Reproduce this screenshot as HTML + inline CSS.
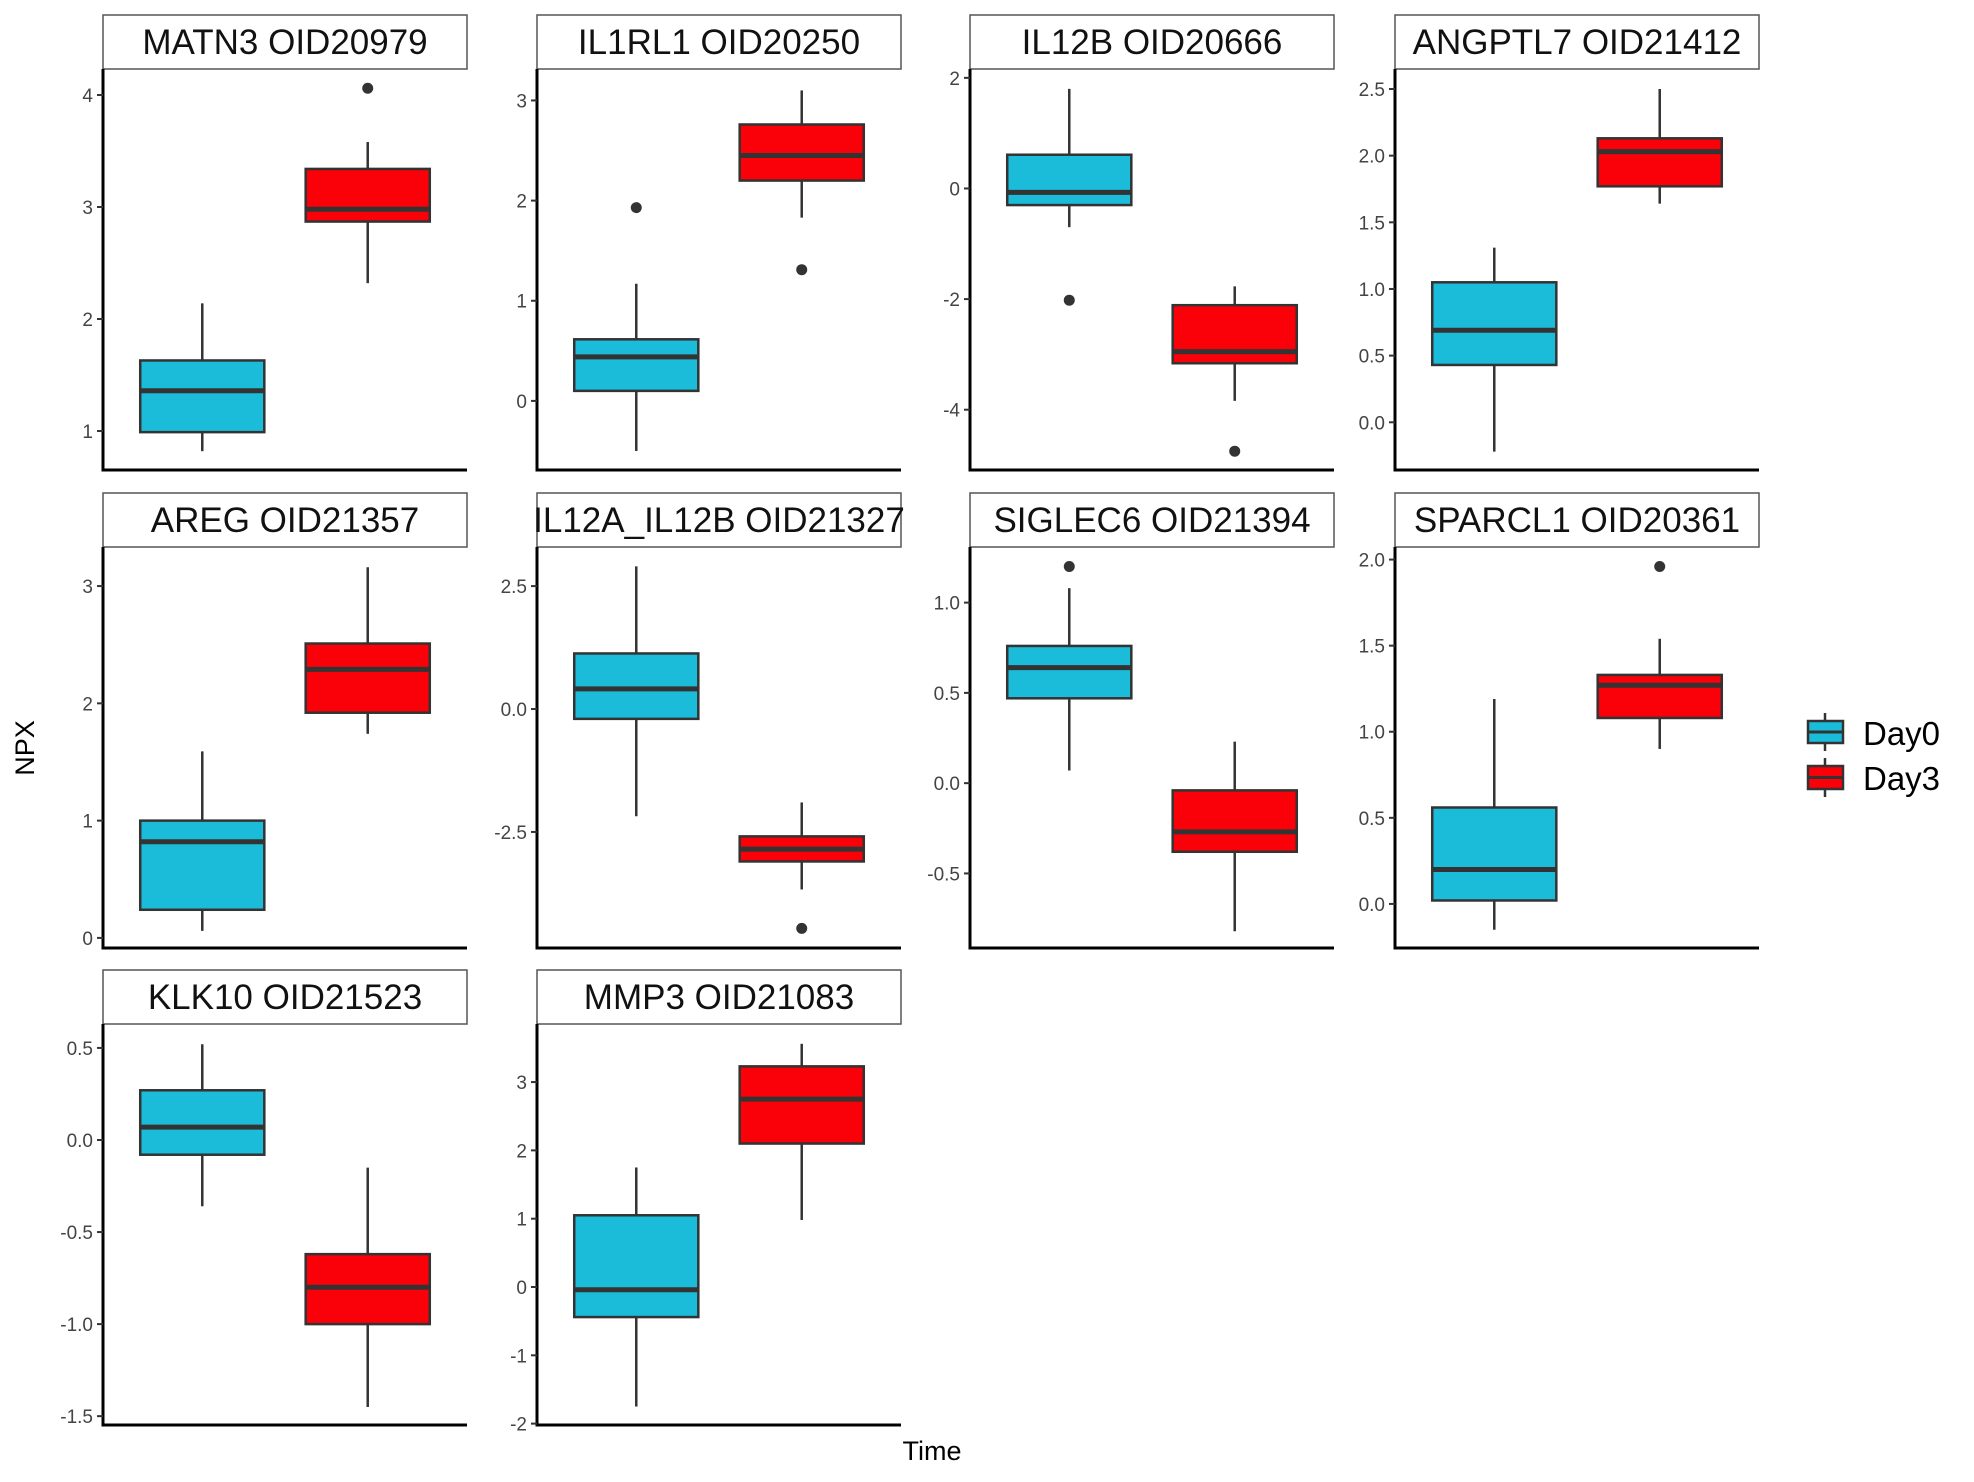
<!DOCTYPE html>
<html><head><meta charset="utf-8"><style>
body{margin:0;background:#fff}
svg{display:block;font-family:"Liberation Sans",Arial,sans-serif}
</style></head><body>
<svg id="chart" width="1974" height="1482" viewBox="0 0 1974 1482" xmlns="http://www.w3.org/2000/svg">
<rect width="1974" height="1482" fill="#fff"/>
<g id="panels"></g>
<text x="0" y="0" transform="translate(34,748) rotate(-90)" text-anchor="middle" font-size="27" fill="#000">NPX</text>
<text x="932" y="1460" text-anchor="middle" font-size="27" fill="#000">Time</text>
<g>
  <g>
    <line x1="1825" y1="713" x2="1825" y2="751" stroke="#333" stroke-width="2.5"/>
    <rect x="1808" y="721" width="35" height="22" fill="#1BBCD9" stroke="#333" stroke-width="2.5"/>
    <line x1="1808" y1="732" x2="1843" y2="732" stroke="#333" stroke-width="3"/>
    <text x="1863" y="745" font-size="33" fill="#000">Day0</text>
  </g>
  <g>
    <line x1="1825" y1="758" x2="1825" y2="797" stroke="#333" stroke-width="2.5"/>
    <rect x="1808" y="766" width="35" height="23" fill="#FA0008" stroke="#333" stroke-width="2.5"/>
    <line x1="1808" y1="777.5" x2="1843" y2="777.5" stroke="#333" stroke-width="3"/>
    <text x="1863" y="790" font-size="33" fill="#000">Day3</text>
  </g>
</g>
</svg>
<script>
// ---- data ----
const panelTitles = ["MATN3 OID20979","IL1RL1 OID20250","IL12B OID20666","ANGPTL7 OID21412","AREG OID21357","IL12A_IL12B OID21327","SIGLEC6 OID21394","SPARCL1 OID20361","KLK10 OID21523","MMP3 OID21083"];
const groups = ["Day0","Day3"];
const yDomains = [[0.652,4.232],[-0.69,3.314],[-5.09,2.16],[-0.358,2.65],[-0.086,3.333],[-4.86,3.295],[-0.913,1.308],[-0.256,2.073],[-1.548,0.63],[-2.02,3.85]];
const yTicks = [[1,2,3,4],[0,1,2,3],[-4,-2,0,2],[0,0.5,1,1.5,2,2.5],[0,1,2,3],[-2.5,0,2.5],[-0.5,0,0.5,1],[0,0.5,1,1.5,2],[-1.5,-1,-0.5,0,0.5],[-2,-1,0,1,2,3]];
const yTickLabels = [["1","2","3","4"],["0","1","2","3"],["-4","-2","0","2"],["0.0","0.5","1.0","1.5","2.0","2.5"],["0","1","2","3"],["-2.5","0.0","2.5"],["-0.5","0.0","0.5","1.0"],["0.0","0.5","1.0","1.5","2.0"],["-1.5","-1.0","-0.5","0.0","0.5"],["-2","-1","0","1","2","3"]];
// [lowerWhisker, q1, median, q3, upperWhisker]
const day0Stats = [[0.82,0.99,1.36,1.63,2.14],[-0.50,0.10,0.44,0.615,1.17],[-0.70,-0.30,-0.07,0.61,1.80],[-0.22,0.43,0.69,1.05,1.31],[0.06,0.24,0.82,1.0,1.59],[-2.18,-0.2,0.41,1.13,2.9],[0.07,0.47,0.64,0.76,1.08],[-0.15,0.02,0.2,0.56,1.19],[-0.36,-0.08,0.07,0.27,0.52],[-1.75,-0.44,-0.04,1.05,1.75]];
const day3Stats = [[2.32,2.87,2.98,3.34,3.58],[1.83,2.20,2.45,2.76,3.10],[-3.84,-3.16,-2.95,-2.11,-1.77],[1.64,1.77,2.03,2.13,2.5],[1.74,1.92,2.29,2.51,3.16],[-3.67,-3.1,-2.85,-2.59,-1.9],[-0.82,-0.38,-0.27,-0.04,0.23],[0.9,1.08,1.27,1.33,1.54],[-1.45,-1.0,-0.80,-0.62,-0.15],[0.98,2.1,2.75,3.23,3.56]];
const day0Outliers = [[],[1.93],[-2.02],[],[],[],[1.2],[],[],[]];
const day3Outliers = [[4.06],[1.31],[-4.75],[],[],[-4.46],[],[1.96],[],[]];

// ---- layout ----
const NS = "http://www.w3.org/2000/svg";
const colX = [103,537,970,1395];
const rowTop = [15,493,970];
const PW = 364, SH = 54, PH = 401;
const fills = ["#1BBCD9","#FA0008"];
const root = document.getElementById("panels");
function mk(tag, attrs, parent){const e=document.createElementNS(NS,tag);for(const k in attrs)e.setAttribute(k,attrs[k]);parent.appendChild(e);return e;}

panelTitles.forEach((title,i)=>{
  const c=i%4, r=Math.floor(i/4);
  const x0=colX[c], st=rowTop[r], top=st+SH, bot=top+PH;
  const [lo,hi]=yDomains[i];
  const yS=v=>bot-(v-lo)/(hi-lo)*PH;
  const xS=k=>x0+((k+1)-0.4)/2.2*PW;
  const bw=0.75/2.2*PW;
  const g=mk("g",{},root);
  
  
  const strip=mk("rect",{x:x0,y:st,width:PW,height:SH,fill:"#fff",stroke:"#555","stroke-width":1.5},g);
  
  
  const tt=mk("text",{x:x0+PW/2,y:st+SH/2+12,"text-anchor":"middle","font-size":35,fill:"#111"},g);
  tt.textContent=title;
  
  
  const ya=mk("line",{x1:x0,y1:top,x2:x0,y2:bot+1.5,stroke:"#000","stroke-width":3},g);
  
  
  const xa=mk("line",{x1:x0-1.5,y1:bot,x2:x0+PW,y2:bot,stroke:"#000","stroke-width":3},g);
  
  
  yTicks[i].forEach((v,j)=>{
    const y=yS(v);
    const tk=mk("line",{x1:x0-6,y1:y,x2:x0,y2:y,stroke:"#333","stroke-width":2},g);
    
    
    const tl=mk("text",{x:x0-10,y:y+7,"text-anchor":"end","font-size":19,fill:"#444"},g);
    tl.textContent=yTickLabels[i][j];
    
    
  });
  [day0Stats[i],day3Stats[i]].forEach((s,k)=>{
    const cx=xS(k);
    const bg=mk("g",{},g);
    
    
    mk("line",{x1:cx,y1:yS(s[0]),x2:cx,y2:yS(s[1]),stroke:"#333","stroke-width":2.5},bg);
    mk("line",{x1:cx,y1:yS(s[3]),x2:cx,y2:yS(s[4]),stroke:"#333","stroke-width":2.5},bg);
    mk("rect",{x:cx-bw/2,y:yS(s[3]),width:bw,height:yS(s[1])-yS(s[3]),fill:fills[k],stroke:"#333","stroke-width":2.5},bg);
    mk("line",{x1:cx-bw/2,y1:yS(s[2]),x2:cx+bw/2,y2:yS(s[2]),stroke:"#333","stroke-width":5},bg);
    const outs=k===0?day0Outliers[i]:day3Outliers[i];
    outs.forEach(v=>{
      const o=mk("circle",{cx:cx,cy:yS(v),r:5.5,fill:"#333"},g);
      
      
    });
  });
});
</script>
</body></html>
